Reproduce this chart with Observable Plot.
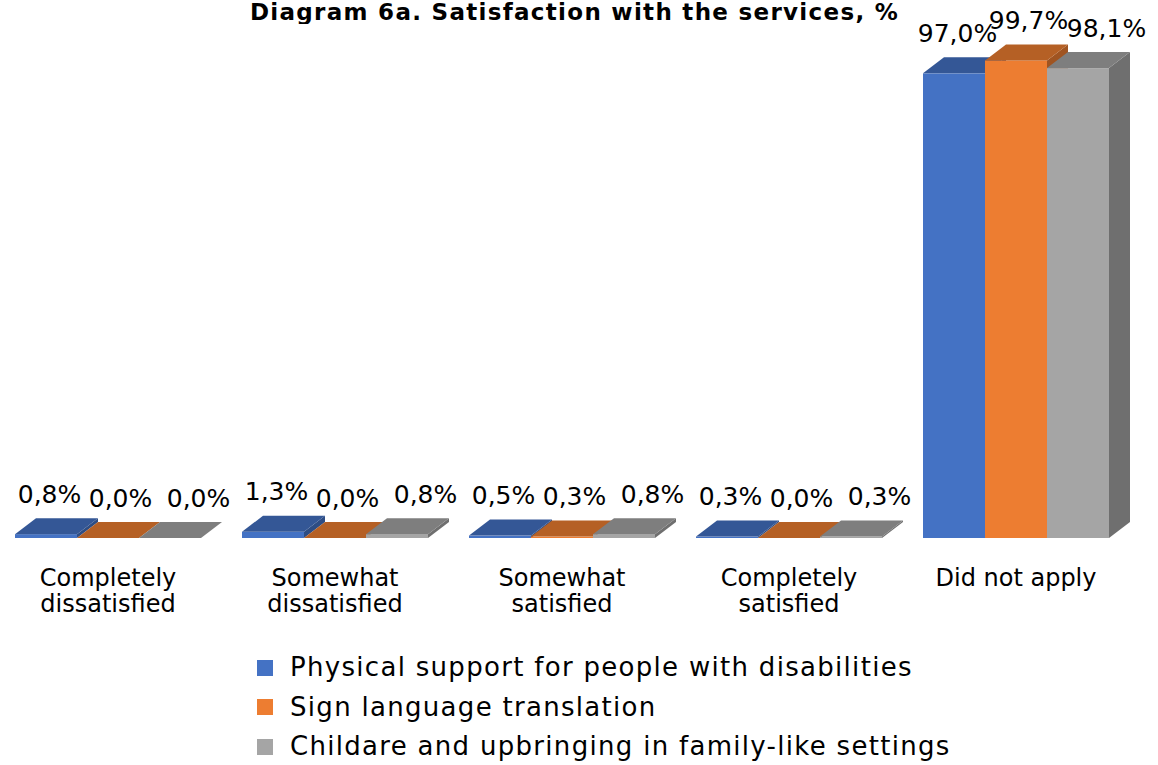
<!DOCTYPE html>
<html>
<head>
<meta charset="utf-8">
<script src="https://cdn.jsdelivr.net/npm/d3@7"></script>
<script src="https://cdn.jsdelivr.net/npm/@observablehq/plot@0.6"></script>
<style>
  html, body { margin: 0; padding: 0; background: #fff; width: 1158px; height: 765px; overflow: hidden; font-family: "DejaVu Sans", sans-serif; position: relative; }
  #title { position: absolute; left: 0; top: 0; width: 1149px; font-weight: bold; font-size: 23px; letter-spacing: 1.3px; line-height: 24px; height: 24px; text-align: center; color: #000; white-space: nowrap; }
  #chart { position: absolute; left: 0; top: 24px; }
  #legend { position: absolute; left: 257px; top: 648px; font-size: 26px; letter-spacing: 1.3px; color: #000; }
  .row { height: 39.5px; line-height: 39.5px; white-space: nowrap; }
  .sw { display: inline-block; width: 16px; height: 16px; margin-right: 17px; vertical-align: middle; position: relative; top: -1px; }
</style>
</head>
<body>
<div id="title">Diagram 6a. Satisfaction with the services, %</div>
<div id="chart"></div>
<div id="legend"></div>
<script>
const categories = ["Completely dissatisfied", "Somewhat dissatisfied", "Somewhat satisfied", "Completely satisfied", "Did not apply"];
const categoryLabels = ["Completely\ndissatisfied", "Somewhat\ndissatisfied", "Somewhat\nsatisfied", "Completely\nsatisfied", "Did not apply"];
const series = ["Physical support for people with disabilities", "Sign language translation", "Childare and upbringing in family-like settings"];
const physicalSupport = [0.8, 1.3, 0.5, 0.3, 97.0];
const signLanguage = [0.0, 0.0, 0.3, 0.0, 99.7];
const childcare = [0.0, 0.8, 0.8, 0.3, 98.1];
const colors = ["#4472C4", "#ED7D31", "#A5A5A5"];

const seriesValues = [physicalSupport, signLanguage, childcare];
const rows = [];
categories.forEach((c, ci) => series.forEach((s, si) => rows.push({category: c, series: s, value: seriesValues[si][ci]})));

const DX = 21, DY = 16;
function render3d(index, scales, values) {
  const bw = typeof scales.x.bandwidth === "function" ? scales.x.bandwidth() : scales.x.bandwidth;
  const g = d3.create("svg:g");
  const order = Array.from(index).sort((a, b) => values.x[a] - values.x[b]);
  for (const i of order) {
    const x0 = values.x[i], x1 = x0 + bw;
    const yT = Math.min(values.y1[i], values.y2[i]);
    const yB = Math.max(values.y1[i], values.y2[i]);
    const c = values.fill[i];
    const top = d3.color(c).darker(0.75).formatHex();
    const side = d3.color(c).darker(1.1).formatHex();
    g.append("polygon").attr("fill", side)
      .attr("points", [[x1, yT], [x1 + DX, yT - DY], [x1 + DX, yB - DY], [x1, yB]].join(" "));
    g.append("rect").attr("fill", c).attr("x", x0).attr("y", yT).attr("width", bw).attr("height", Math.max(0, yB - yT));
    g.append("polygon").attr("fill", top)
      .attr("points", [[x0, yT], [x1, yT], [x1 + DX, yT - DY], [x0 + DX, yT - DY]].join(" "));
  }
  return g.node();
}

const fmt = v => v.toFixed(1).replace(".", ",") + "%";
const labelDx = [3, 12, 28];

const plot = Plot.plot({
  width: 1158,
  height: 600,
  marginLeft: 12,
  marginRight: 46,
  marginTop: 35,
  marginBottom: 86,
  style: {fontFamily: "DejaVu Sans", color: "#000", background: "#fff", overflow: "visible"},
  fx: {domain: categories, paddingInner: 0.175, paddingOuter: 0, axis: null, label: null},
  x: {domain: series, padding: 0, axis: null},
  y: {domain: [0, 100], axis: null},
  color: {domain: series, range: colors},
  marks: [
    Plot.barY(rows, {fx: "category", x: "series", y: "value", fill: "series", render: render3d}),
    ...series.map((s, si) => Plot.text(rows.filter(d => d.series === s), {
      fx: "category", x: "series", y: "value", text: d => fmt(d.value),
      lineAnchor: "bottom", dy: -32, dx: labelDx[si], fontSize: 25, fill: "#000"
    })),
    Plot.text(categories, {
      fx: d => d, text: (d, i) => categoryLabels[i], frameAnchor: "bottom",
      lineAnchor: "top", dy: 30, lineHeight: 1.05, fontSize: 24, fill: "#000"
    })
  ]
});
document.getElementById("chart").appendChild(plot);

const legend = document.getElementById("legend");
series.forEach((s, i) => {
  const row = document.createElement("div");
  row.className = "row";
  const sw = document.createElement("span");
  sw.className = "sw";
  sw.style.background = colors[i];
  row.appendChild(sw);
  row.appendChild(document.createTextNode(s));
  legend.appendChild(row);
});
</script>
</body>
</html>
